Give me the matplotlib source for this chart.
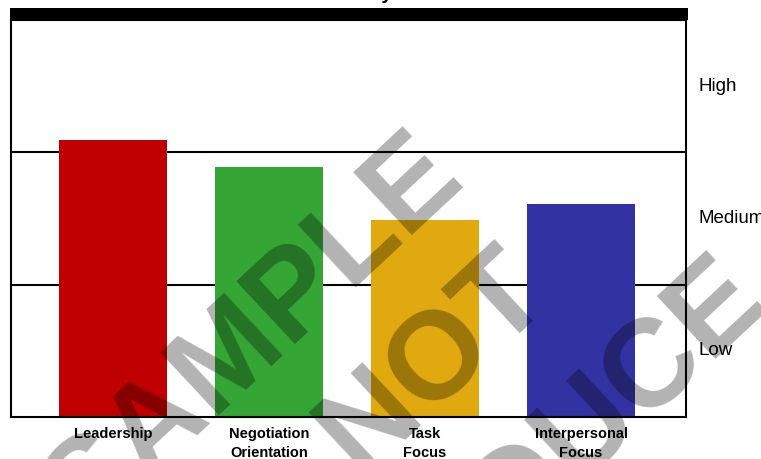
import matplotlib.pyplot as plt
import numpy as np
from matplotlib.patches import Rectangle

# data
categories = ['Leadership', 'Negotiation\nOrientation', 'Task\nFocus', 'Interpersonal\nFocus']
scores = [2.09, 1.89, 1.49, 1.61]
bar_colors = ['#C00000', '#35A535', '#E0A90F', '#3232A2']
levels = ['Low', 'Medium', 'High']

plt.rcParams['font.family'] = ['Liberation Sans', 'DejaVu Sans']

fig = plt.figure(figsize=(7.61, 4.59), dpi=100)
ax = fig.add_axes([11/761, 1-417/459, 675/761, 397/459])
#axes box placed to match the reference pixels

x = np.arange(len(categories))
ax.bar(x, scores, width=0.69, color=bar_colors, zorder=1)
ax.set_xlim(-0.654, 3.673)
ax.set_ylim(0, 3)

#horizontal band lines between Low / Medium / High
for yv in [1, 2]:
    ax.axhline(yv, color='black', lw=1.5, zorder=0)

for s in ax.spines.values():
    s.set_linewidth(1.5)
    s.set_color('black')

ax.set_xticks(x)
ax.set_xticklabels(categories, fontsize=10.5, fontweight='bold', linespacing=1.45)
ax.tick_params(axis='x', length=0, pad=7)
ax.set_yticks([])

#level names on the right side of the chart
for i, name in enumerate(levels):
    ax.text(1.018, (i + 0.5) / 3, name, transform=ax.transAxes, fontsize=13.5,
            ha='left', va='center')

#thick black title bar above the plot
fig.patches.append(Rectangle((10/761, 1-20/459), 678/761, 12/459, transform=fig.transFigure,
                             facecolor='black', edgecolor='none'))
#title is cut off by the top edge of the image
fig.text(348/761, 1 + 1/459, 'Summary', ha='center', va='baseline', fontsize=14,
         fontweight='bold')

#watermark
fig.text(355/761, 1-443/459, 'SAMPLE\nDO NOT\nREPRODUCE', rotation=43, ha='center',
         va='center', multialignment='center', fontsize=90, fontweight='bold',
         color='black', alpha=0.3, linespacing=1.35, zorder=10)

plt.savefig('out.png', dpi=100)
